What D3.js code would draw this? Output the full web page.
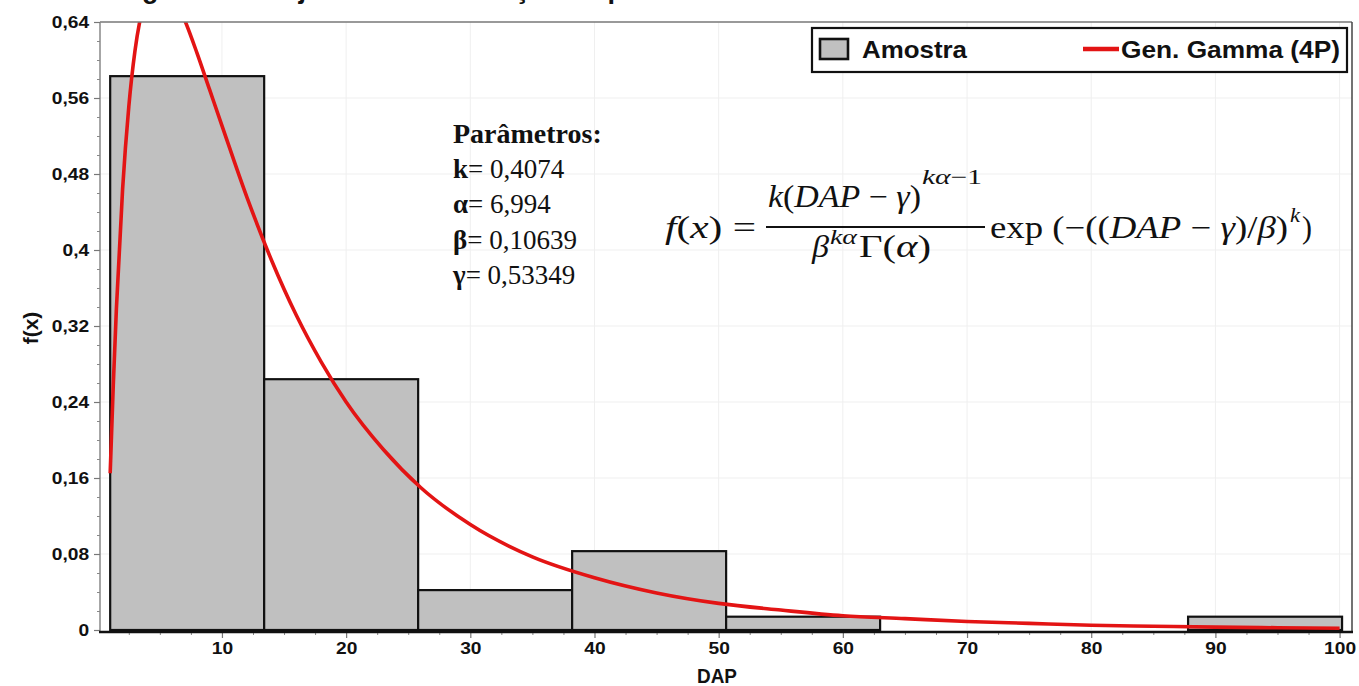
<!DOCTYPE html>
<html><head><meta charset="utf-8">
<script src="https://cdn.jsdelivr.net/npm/d3@7"></script>
<style>body{margin:0;background:#fff}svg{display:block}</style>
</head><body>
<svg id="chart" width="1359" height="686"></svg>
<script>
// ---- data ----
const binEdges = [1.0, 13.4, 25.8, 38.2, 50.6, 63.0, 75.4, 87.8, 100.2];
const binFreq  = [0.583, 0.264, 0.042, 0.083, 0.014, 0, 0, 0.014];

const curveX = [1.0, 1.25, 1.5, 2, 2.5, 3, 3.5, 4, 5, 6, 7, 8, 9, 10, 12, 14, 16, 18, 20, 23, 26, 30, 35, 40, 45, 50, 55, 60, 65, 70, 75, 80, 85, 90, 95, 100];
const curveY = [0.165, 0.258, 0.338, 0.464, 0.551, 0.610, 0.648, 0.670, 0.683, 0.669, 0.642, 0.607, 0.569, 0.531, 0.456, 0.389, 0.331, 0.282, 0.240, 0.190, 0.150, 0.111, 0.077, 0.055, 0.039, 0.028, 0.021, 0.015, 0.012, 0.009, 0.007, 0.005, 0.004, 0.003, 0.0024, 0.0019];

const yTickValues = [0, 0.08, 0.16, 0.24, 0.32, 0.40, 0.48, 0.56, 0.64];
const yTickLabels = ["0", "0,08", "0,16", "0,24", "0,32", "0,4", "0,48", "0,56", "0,64"];
const xTickValues = [10, 20, 30, 40, 50, 60, 70, 80, 90, 100];
const xTickLabels = ["10", "20", "30", "40", "50", "60", "70", "80", "90", "100"];

const legendLabels = ["Amostra", "Gen. Gamma (4P)"];
const paramTitle = "Parâmetros:";
const paramSymbols = ["k", "α", "β", "γ"];
const paramValues = ["0,4074", "6,994", "0,10639", "0,53349"];

// ---- layout ----
const svg = d3.select("#chart");
const L = 100, R = 1352, T = 22, B = 630;
const x = d3.scaleLinear().domain([0.18, 101]).range([L, R]);
const y = d3.scaleLinear().domain([0, 0.64]).range([B, T]);
const sans = "Liberation Sans, Arial, sans-serif";

// cut-off caption above the chart (only descenders visible, as in the reference)
svg.append("text").attr("y", -2.5)
  .attr("font-family", sans).attr("font-weight", "bold").attr("font-size", 27).attr("fill", "#111")
  .call(t => {
    t.append("tspan").attr("x", 118).text("Figura 14 –");
    t.append("tspan").attr("x", 279).text("Ajuste da distribuição de probabilidade");
  });

// faint grid
const grid = svg.append("g").attr("stroke", "#efefef").attr("stroke-width", 1);
xTickValues.forEach(v => grid.append("line").attr("x1", x(v)).attr("x2", x(v)).attr("y1", T).attr("y2", B));
yTickValues.slice(1, -1).forEach(v => grid.append("line").attr("x1", L).attr("x2", R).attr("y1", y(v)).attr("y2", y(v)));

// clip
svg.append("clipPath").attr("id", "plotclip").append("rect")
  .attr("x", L).attr("y", T).attr("width", R - L).attr("height", B - T + 2);

// bars
const bins = binFreq.map((f, i) => ({x0: binEdges[i], x1: binEdges[i + 1], f}));
svg.append("g").selectAll("rect").data(bins).join("rect")
  .attr("x", d => x(d.x0)).attr("width", d => x(d.x1) - x(d.x0))
  .attr("y", d => y(d.f)).attr("height", d => y(0) - y(d.f))
  .attr("fill", "#c0c0c0").attr("stroke", "#111").attr("stroke-width", 2.2);

// fitted curve
const pts = curveX.map((v, i) => [v, curveY[i]]);
svg.append("path").datum(pts)
  .attr("clip-path", "url(#plotclip)")
  .attr("fill", "none").attr("stroke", "#e31414").attr("stroke-width", 3.6)
  .attr("stroke-linejoin", "round")
  .attr("d", d3.line().x(d => x(d[0])).y(d => y(d[1])).curve(d3.curveMonotoneX));

// frame
svg.append("line").attr("x1", L).attr("x2", R).attr("y1", T).attr("y2", T).attr("stroke", "#777").attr("stroke-width", 1.5);
svg.append("line").attr("x1", R).attr("x2", R).attr("y1", T).attr("y2", B + 2).attr("stroke", "#444").attr("stroke-width", 1.5);
svg.append("line").attr("x1", L).attr("x2", L).attr("y1", T).attr("y2", B + 2).attr("stroke", "#888").attr("stroke-width", 1.5);

// y axis
const yAxis = svg.append("g").attr("transform", `translate(${L},0)`)
  .call(d3.axisLeft(y).tickValues(yTickValues).tickFormat((d, i) => yTickLabels[i]).tickSize(6).tickPadding(3));
yAxis.select(".domain").remove();
yAxis.selectAll(".tick line").attr("stroke", "#777").attr("stroke-width", 1.2);
yAxis.selectAll(".tick text").attr("font-family", sans)
  .attr("font-weight", "bold").attr("font-size", 16).attr("fill", "#111")
  .attr("transform", "scale(1.2,1)");
const yMinor = d3.range(0.02, 0.64, 0.02).filter(v => Math.abs(v / 0.08 - Math.round(v / 0.08)) > 1e-6);
svg.append("g").attr("transform", `translate(${L},0)`)
  .call(d3.axisLeft(y).tickValues(yMinor).tickFormat("").tickSize(3))
  .call(g => g.select(".domain").remove())
  .selectAll(".tick line").attr("stroke", "#888");

// x axis
const xAxis = svg.append("g").attr("transform", `translate(0,${B + 2})`)
  .call(d3.axisBottom(x).tickValues(xTickValues).tickFormat((d, i) => xTickLabels[i]).tickSize(6).tickPadding(5));
xAxis.select(".domain").remove();
xAxis.selectAll(".tick line").attr("stroke", "#777").attr("stroke-width", 1.2);
xAxis.selectAll(".tick text").attr("font-family", sans)
  .attr("font-weight", "bold").attr("font-size", 16).attr("fill", "#111")
  .attr("transform", "scale(1.2,1)");
const xMinor = d3.range(2.5, 100, 2.5).filter(v => v % 10 !== 0);
svg.append("g").attr("transform", `translate(0,${B + 2})`)
  .call(d3.axisBottom(x).tickValues(xMinor).tickFormat("").tickSize(3))
  .call(g => g.select(".domain").remove())
  .selectAll(".tick line").attr("stroke", "#888");
svg.append("line").attr("x1", L - 1).attr("x2", R + 1).attr("y1", B + 2).attr("y2", B + 2).attr("stroke", "#111").attr("stroke-width", 2.6);

// axis titles
svg.append("text").attr("x", 717).attr("y", 683).attr("text-anchor", "middle")
  .attr("font-family", sans).attr("font-weight", "bold").attr("font-size", 20)
  .attr("fill", "#111").attr("textLength", 40).attr("lengthAdjust", "spacingAndGlyphs").text("DAP");
svg.append("text").attr("transform", "translate(38,328) rotate(-90)").attr("text-anchor", "middle")
  .attr("font-family", sans).attr("font-weight", "bold").attr("font-size", 21)
  .attr("fill", "#111").text("f(x)");

// legend
const lg = svg.append("g");
lg.append("rect").attr("x", 812).attr("y", 28).attr("width", 535).attr("height", 44)
  .attr("fill", "#fff").attr("stroke", "#111").attr("stroke-width", 2.2);
lg.append("rect").attr("x", 820).attr("y", 39).attr("width", 28).attr("height", 20)
  .attr("fill", "#c0c0c0").attr("stroke", "#111").attr("stroke-width", 2.6);
lg.append("text").attr("x", 862).attr("y", 58).attr("font-family", sans)
  .attr("font-weight", "bold").attr("font-size", 23).attr("fill", "#111")
  .attr("textLength", 105).attr("lengthAdjust", "spacingAndGlyphs").text(legendLabels[0]);
lg.append("line").attr("x1", 1083).attr("x2", 1119).attr("y1", 49).attr("y2", 49)
  .attr("stroke", "#e31414").attr("stroke-width", 4.5);
lg.append("text").attr("x", 1121).attr("y", 58).attr("font-family", sans)
  .attr("font-weight", "bold").attr("font-size", 23).attr("fill", "#111")
  .attr("textLength", 219).attr("lengthAdjust", "spacingAndGlyphs").text(legendLabels[1]);

// parameters block
const pf = "Liberation Serif, 'Times New Roman', serif";
svg.append("text").attr("x", 453).attr("y", 143).attr("font-family", pf).attr("font-size", 28)
  .attr("font-weight", "bold").attr("fill", "#111").text(paramTitle);
paramSymbols.forEach((s, i) => {
  const t = svg.append("text").attr("x", 453).attr("y", 178 + i * 35.3).attr("font-family", pf)
    .attr("font-size", 27).attr("fill", "#111");
  t.append("tspan").attr("font-weight", "bold").text(s);
  t.append("tspan").text("= " + paramValues[i]);
});

// formula
const ff = "Liberation Serif, 'Times New Roman', serif";
function mtext(xp, yp, size, parts, len) {
  const t = svg.append("text").attr("x", xp).attr("y", yp).attr("font-family", ff).attr("font-size", size).attr("fill", "#111");
  parts.forEach(p => t.append("tspan").attr("font-style", p[1] ? "italic" : "normal").text(p[0]));
  if (len) t.attr("textLength", len).attr("lengthAdjust", "spacingAndGlyphs");
  return t;
}
mtext(665, 238, 31, [["f", 1], ["(", 0], ["x", 1], [") =", 0]], 91);
mtext(768, 207, 31, [["k", 1], ["(", 0], ["DAP", 1], [" − ", 0], ["γ", 1], [")", 0]], 153);
mtext(922, 184, 21, [["kα", 1], ["−1", 0]], 60);
svg.append("line").attr("x1", 766).attr("x2", 985).attr("y1", 227).attr("y2", 227).attr("stroke", "#111").attr("stroke-width", 2);
mtext(812, 257, 31, [["β", 1]], 17);
mtext(830, 244, 21, [["kα", 1]], 27);
mtext(859, 257, 31, [["Γ(", 0], ["α", 1], [")", 0]], 72);
mtext(990, 238, 31, [["exp (−((", 0], ["DAP", 1], [" − ", 0], ["γ", 1], [")/", 0], ["β", 1], [")", 0]], 298);
mtext(1290, 222, 21, [["k", 1]], 10);
mtext(1302, 238, 31, [[")", 0]], 10);
</script>
</body></html>
